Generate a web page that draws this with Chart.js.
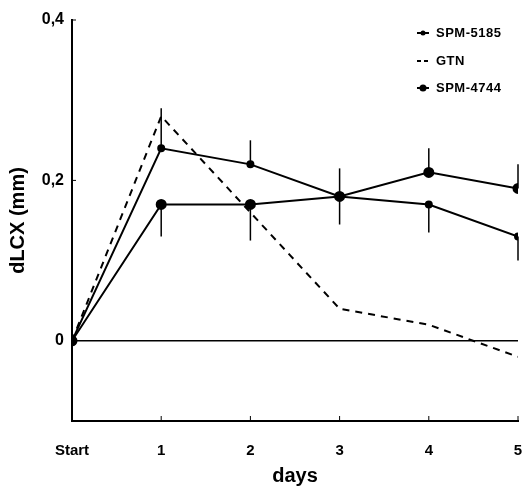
<!DOCTYPE html>
<html>
<head>
<meta charset="utf-8">
<script src="https://cdn.jsdelivr.net/npm/chart.js@4/dist/chart.umd.min.js"></script>
<style>
  html, body { margin: 0; padding: 0; background: #fff; }
  #wrap { width: 526px; height: 488px; }
</style>
</head>
<body>
<div id="wrap"><canvas id="chartDlcx"></canvas></div>
<script>
// Data
const days = [0, 1, 2, 3, 4, 5];
const dayLabels = ['Start', '1', '2', '3', '4', '5'];
const yTicks = [0, 0.2, 0.4];

const spm5185 = [0, 0.24, 0.22, 0.18, 0.17, 0.13];
const spm5185Up = [0, 0.05, 0.03, 0.035, 0, 0];
const spm5185Down = [0, 0, 0, 0, 0.035, 0.03];

const gtn = [0, 0.28, 0.16, 0.04, 0.02, -0.02];

const spm4744 = [0, 0.17, 0.17, 0.18, 0.21, 0.19];
const spm4744Up = [0, 0, 0, 0, 0.03, 0.03];
const spm4744Down = [0, 0.04, 0.045, 0.035, 0, 0];

const baseline = [0, 0, 0, 0, 0, 0];

const FONT = '"Liberation Sans", Arial, sans-serif';
const toPoints = vals => vals.map((v, i) => ({ x: days[i], y: v }));

// error bars, small inside ticks and the legend
const extras = {
    id: 'extras',
    afterDatasetsDraw(chart) {
        const { ctx } = chart;
        const xs = chart.scales.x, ys = chart.scales.y;
        ctx.save();
        ctx.strokeStyle = '#000';
        ctx.lineWidth = 1.5;
        chart.data.datasets.forEach(ds => {
            if (!ds.errUp) return;
            ds.data.forEach((p, i) => {
                const px = xs.getPixelForValue(p.x);
                const top = ys.getPixelForValue(p.y + ds.errUp[i]);
                const bot = ys.getPixelForValue(p.y - ds.errDown[i]);
                if (top === bot) return;
                ctx.beginPath();
                ctx.moveTo(px, top);
                ctx.lineTo(px, bot);
                ctx.stroke();
            });
        });

        // ticks pointing inwards
        ctx.lineWidth = 1;
        const bottom = chart.chartArea.bottom, left = chart.chartArea.left;
        days.slice(1).forEach(d => {
            const px = xs.getPixelForValue(d);
            ctx.beginPath();
            ctx.moveTo(px, bottom);
            ctx.lineTo(px, bottom - 5);
            ctx.stroke();
        });
        yTicks.forEach(v => {
            const py = ys.getPixelForValue(v);
            ctx.beginPath();
            ctx.moveTo(left, py);
            ctx.lineTo(left + 4, py);
            ctx.stroke();
        });

        // legend
        const items = [
            { label: 'SPM-5185', dash: [], r: 2.5, y: 33 },
            { label: 'GTN', dash: [4, 3], r: 0, y: 61 },
            { label: 'SPM-4744', dash: [], r: 3.5, y: 88 }
        ];
        ctx.font = 'bold 13px ' + FONT;
        ctx.letterSpacing = '0.5px';
        ctx.textBaseline = 'middle';
        ctx.fillStyle = '#000';
        items.forEach(it => {
            ctx.lineWidth = 2;
            ctx.setLineDash(it.dash);
            ctx.beginPath();
            ctx.moveTo(417, it.y);
            ctx.lineTo(429, it.y);
            ctx.stroke();
            ctx.setLineDash([]);
            if (it.r) {
                ctx.beginPath();
                ctx.arc(423, it.y, it.r, 0, Math.PI * 2);
                ctx.fill();
            }
            ctx.fillText(it.label, 436, it.y);
        });
        ctx.restore();
    }
};

new Chart(document.getElementById('chartDlcx'), {
    type: 'line',
    data: {
        datasets: [
            {
                label: 'baseline',
                data: toPoints(baseline),
                borderColor: '#000',
                borderWidth: 1.5,
                pointRadius: 0
            },
            {
                label: 'SPM-5185',
                data: toPoints(spm5185),
                errUp: spm5185Up,
                errDown: spm5185Down,
                borderColor: '#000',
                backgroundColor: '#000',
                borderWidth: 2,
                pointRadius: 3
            },
            {
                label: 'GTN',
                data: toPoints(gtn),
                borderColor: '#000',
                borderWidth: 2,
                borderDash: [7, 6],
                pointRadius: 0
            },
            {
                label: 'SPM-4744',
                data: toPoints(spm4744),
                errUp: spm4744Up,
                errDown: spm4744Down,
                borderColor: '#000',
                backgroundColor: '#000',
                borderWidth: 2,
                pointRadius: 4.5
            }
        ]
    },
    options: {
        responsive: true,
        maintainAspectRatio: false,
        animation: false,
        layout: { padding: { left: 0, top: 20, right: 8, bottom: 0 } },
        plugins: { legend: { display: false }, tooltip: { enabled: false } },
        scales: {
            x: {
                type: 'linear',
                min: 0,
                max: 5,
                afterFit: s => { s.height = 67; s.paddingRight = 0; s.paddingLeft = 0; },
                afterBuildTicks: s => { s.ticks = days.map(v => ({ value: v })); },
                grid: { display: false },
                border: { display: true, color: '#000', width: 2 },
                ticks: {
                    color: '#000',
                    padding: 13,
                    maxRotation: 0,
                    font: { family: FONT, size: 15, weight: 'bold' },
                    callback: v => dayLabels[days.indexOf(v)]
                },
                title: {
                    display: true,
                    text: 'days',
                    color: '#000',
                    padding: { top: 0, bottom: 0 },
                    font: { family: FONT, size: 20, weight: 'bold' }
                }
            },
            y: {
                min: -0.1,
                max: 0.4,
                afterFit: s => { s.width = 72; },
                afterBuildTicks: s => { s.ticks = yTicks.map(v => ({ value: v })); },
                grid: { display: false },
                border: { display: true, color: '#000', width: 2 },
                ticks: {
                    color: '#000',
                    padding: 0,
                    font: { family: FONT, size: 16, weight: 'bold' },
                    callback: v => v === 0 ? '0' : v.toFixed(1).replace('.', ',')
                },
                title: {
                    display: true,
                    text: 'dLCX (mm)',
                    color: '#000',
                    padding: { top: 6, bottom: 0 },
                    font: { family: FONT, size: 20, weight: 'bold' }
                }
            }
        }
    },
    plugins: [extras]
});
</script>
</body>
</html>
